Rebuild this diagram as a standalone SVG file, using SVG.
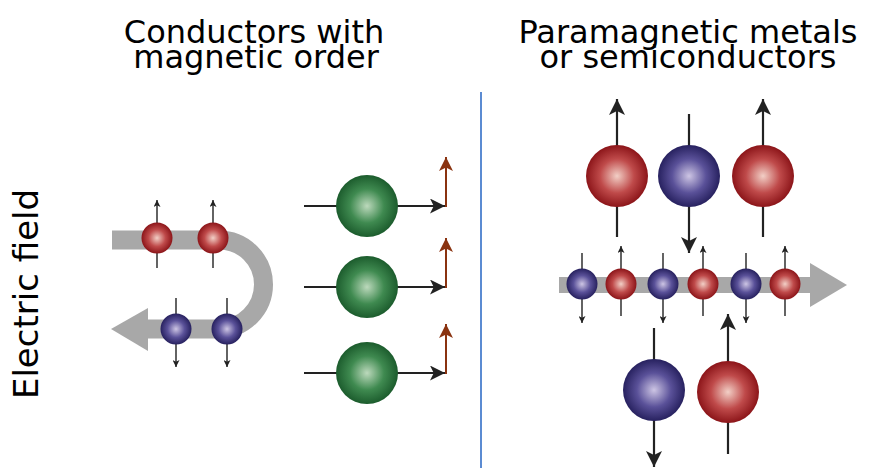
<svg xmlns="http://www.w3.org/2000/svg" width="871" height="468" viewBox="0 0 871 468">
  <style>
    .title { font-family: "DejaVu Sans", sans-serif; font-size: 32px; fill: #000; text-anchor: middle; }
    .band { fill: none; stroke: #a8a8a8; }
    .head { fill: #a8a8a8; }
    .spin-s { stroke: #222; stroke-width: 1.4; marker-end: url(#tipS); }
    .spin-l { stroke: #222; stroke-width: 2.2; marker-end: url(#tipL); }
    .drift { stroke: #222; stroke-width: 2; marker-end: url(#tipM); }
    .moment { stroke: #8a3310; stroke-width: 2; marker-end: url(#tipB); }
    .red { fill: url(#gRed); }
    .blue { fill: url(#gBlue); }
    .green { fill: url(#gGreen); }
  </style>
  <defs>
    <radialGradient id="gRed" cx="50%" cy="50%" r="50%">
      <stop offset="0" stop-color="#f2cfc6"/>
      <stop offset="0.55" stop-color="#bf4a4a"/>
      <stop offset="1" stop-color="#8c1519"/>
    </radialGradient>
    <radialGradient id="gBlue" cx="50%" cy="50%" r="50%">
      <stop offset="0" stop-color="#cdc5e4"/>
      <stop offset="0.55" stop-color="#5a5199"/>
      <stop offset="1" stop-color="#27215f"/>
    </radialGradient>
    <radialGradient id="gGreen" cx="50%" cy="50%" r="50%">
      <stop offset="0" stop-color="#bcd9bc"/>
      <stop offset="0.55" stop-color="#3f8a50"/>
      <stop offset="1" stop-color="#1c5c2d"/>
    </radialGradient>
    <marker id="tipS" markerUnits="userSpaceOnUse" viewBox="0 0 10 10" refX="10" refY="5" markerWidth="8" markerHeight="7" orient="auto">
      <path d="M0,0 L10,5 L0,10 L2.5,5 Z" fill="#222"/>
    </marker>
    <marker id="tipL" markerUnits="userSpaceOnUse" viewBox="0 0 10 10" refX="10" refY="5" markerWidth="18" markerHeight="16" orient="auto">
      <path d="M0,0 L10,5 L0,10 L2.5,5 Z" fill="#222"/>
    </marker>
    <marker id="tipM" markerUnits="userSpaceOnUse" viewBox="0 0 10 10" refX="10" refY="5" markerWidth="18" markerHeight="15" orient="auto">
      <path d="M0,0 L10,5 L0,10 L2.5,5 Z" fill="#222"/>
    </marker>
    <marker id="tipB" markerUnits="userSpaceOnUse" viewBox="0 0 10 10" refX="10" refY="5" markerWidth="17" markerHeight="14" orient="auto">
      <path d="M0,0 L10,5 L0,10 L2.5,5 Z" fill="#8a3310"/>
    </marker>
  </defs>

  <rect width="871" height="468" fill="#fff"/>

  <!-- headings -->
  <g id="heading-left">
    <text class="title" x="254" y="43">Conductors with</text>
    <text class="title" x="256" y="68">magnetic order</text>
  </g>
  <g id="heading-right">
    <text class="title" x="688" y="43">Paramagnetic metals</text>
    <text class="title" x="688" y="68">or semiconductors</text>
  </g>
  <g id="axis-label">
    <text class="title" font-size="34" style="font-size:34px" transform="translate(38,294) rotate(-90)">Electric field</text>
  </g>

  <!-- panel divider -->
  <line x1="481" y1="92" x2="481" y2="468" stroke="#5b8bd2" stroke-width="2"/>

  <!-- current paths -->
  <g id="current-left">
    <path class="band" stroke-width="19" d="M112,240 H219 A44.5,44.5 0 0 1 219,329 H145"/>
    <polygon class="head" points="148,308 111,329 148,351"/>
  </g>
  <g id="current-right">
    <rect x="559" y="277" width="254" height="16" fill="#a8a8a8"/>
    <polygon class="head" points="810,263 847,285 810,307"/>
  </g>

  <!-- spin and moment arrows -->
  <g id="connectors">
    <!-- left: spin-polarised carriers -->
    <line class="spin-s" x1="157" y1="268" x2="157" y2="200"/>
    <line class="spin-s" x1="213" y1="268" x2="213" y2="200"/>
    <line class="spin-s" x1="176" y1="298" x2="176" y2="367"/>
    <line class="spin-s" x1="227" y1="298" x2="227" y2="367"/>
    <!-- left: moments drifting in the field -->
    <line class="drift" x1="304" y1="206" x2="445" y2="206"/>
    <line class="drift" x1="304" y1="287" x2="445" y2="287"/>
    <line class="drift" x1="304" y1="373" x2="445" y2="373"/>
    <line class="moment" x1="446" y1="207" x2="446" y2="157"/>
    <line class="moment" x1="446" y1="288" x2="446" y2="238"/>
    <line class="moment" x1="446" y1="374" x2="446" y2="324"/>
    <!-- right: row of carriers -->
    <line class="spin-s" x1="582" y1="253" x2="582" y2="323"/>
    <line class="spin-s" x1="621" y1="316" x2="621" y2="246"/>
    <line class="spin-s" x1="663" y1="253" x2="663" y2="323"/>
    <line class="spin-s" x1="703" y1="316" x2="703" y2="246"/>
    <line class="spin-s" x1="746" y1="253" x2="746" y2="323"/>
    <line class="spin-s" x1="785" y1="316" x2="785" y2="246"/>
    <!-- right: large carriers -->
    <line class="spin-l" x1="617" y1="237" x2="617" y2="99"/>
    <line class="spin-l" x1="689" y1="114" x2="689" y2="253"/>
    <line class="spin-l" x1="763" y1="237" x2="763" y2="99"/>
    <line class="spin-l" x1="654" y1="328" x2="654" y2="467"/>
    <line class="spin-l" x1="728" y1="454" x2="728" y2="314"/>
  </g>

  <!-- carriers -->
  <g id="left-up-1"><circle class="red" cx="157" cy="238" r="15.5"/></g>
  <g id="left-up-2"><circle class="red" cx="213" cy="238" r="15.5"/></g>
  <g id="left-down-1"><circle class="blue" cx="176" cy="329" r="15.5"/></g>
  <g id="left-down-2"><circle class="blue" cx="227" cy="329" r="15.5"/></g>

  <g id="moment-1"><circle class="green" cx="367" cy="206" r="31"/></g>
  <g id="moment-2"><circle class="green" cx="367" cy="287" r="31"/></g>
  <g id="moment-3"><circle class="green" cx="367" cy="373" r="31"/></g>

  <g id="row-1"><circle class="blue" cx="582" cy="284" r="15.5"/></g>
  <g id="row-2"><circle class="red" cx="621" cy="284" r="15.5"/></g>
  <g id="row-3"><circle class="blue" cx="663" cy="284" r="15.5"/></g>
  <g id="row-4"><circle class="red" cx="703" cy="284" r="15.5"/></g>
  <g id="row-5"><circle class="blue" cx="746" cy="284" r="15.5"/></g>
  <g id="row-6"><circle class="red" cx="785" cy="284" r="15.5"/></g>

  <g id="top-up-1"><circle class="red" cx="617" cy="176" r="31"/></g>
  <g id="top-down"><circle class="blue" cx="689" cy="176" r="31"/></g>
  <g id="top-up-2"><circle class="red" cx="763" cy="176" r="31"/></g>
  <g id="bottom-down"><circle class="blue" cx="654" cy="390" r="31"/></g>
  <g id="bottom-up"><circle class="red" cx="728" cy="392" r="31"/></g>
</svg>
